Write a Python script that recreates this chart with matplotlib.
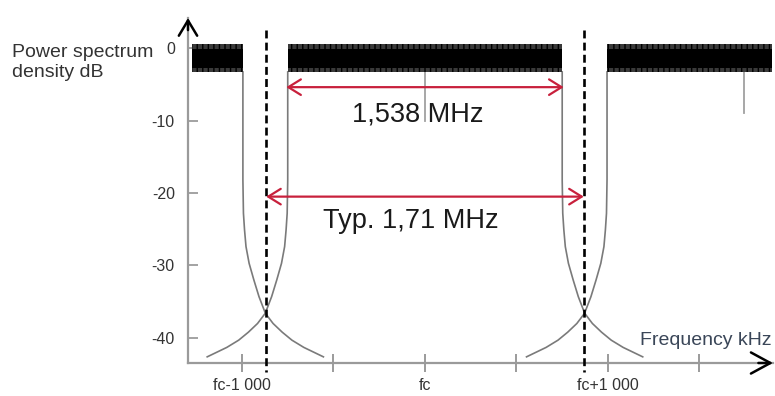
import matplotlib.pyplot as plt

plt.rcParams['font.family'] = ['Liberation Sans', 'DejaVu Sans']

# channel blocks (kHz relative to fc), flat top of the noise band in dB
blocks = [(-1273, -995), (-750, 750), (995, 1896)]
band_top, band_bottom = 0.55, -3.3
core_top, core_bottom = -0.2, -2.7

# filter skirt: distance from block edge (kHz) vs dB
skirt_khz = [0, 0, 3, 9, 17, 34, 60, 88, 123, 165, 215, 268, 333, 440]
skirt_db = [-3.3, -18.2, -22.8, -25.1, -27.4, -29.7, -32.0, -34.3, -36.6, -38.0, -39.2, -40.3, -41.3, -42.6]
# (edge position, direction the skirt runs)
skirt_edges = [(-995, 1), (-750, -1), (750, 1), (995, -1)]

# spurs dropping out of the band
spur_f = [0, 1743]
spur_db = [-10, -9]

dashed_f = [-868, 868]
occupied = (-758, 758, -5.4, '1,538 MHz')
channel = (-868, 868, -20.5, 'Typ. 1,71 MHz')

yticks = [0, -10, -20, -30, -40]
xticks = [-1000, -500, 0, 500, 1000, 1500]
xlabels = ['fc-1 000', '', 'fc', '', 'fc+1 000', '']

W, H = 775, 396
fig = plt.figure(figsize=(W / 100, H / 100), dpi=100)
ax = fig.add_axes([188 / W, (H - 363) / H, (773 - 188) / W, (363 - 18) / H])
ax.set_xlim(-1295, 1902)
ax.set_ylim(-43.45, 4.14)

red = '#c8203c'
grey = '#7a7a7a'

for f0, f1 in blocks:
    ax.fill_between([f0, f1], band_bottom, band_top, facecolor='#3a3a3a',
                    edgecolor='black', hatch='|||', linewidth=0, zorder=3)
    ax.fill_between([f0, f1], core_bottom, core_top, color='black', linewidth=0, zorder=4)

for edge, sgn in skirt_edges:
    ax.plot([edge + sgn * d for d in skirt_khz], skirt_db, color=grey, lw=1.2, zorder=2)

for f, d in zip(spur_f, spur_db):
    ax.plot([f, f], [band_bottom, d], color='#a0a0a0', lw=1.3, zorder=2)

for f in dashed_f:
    ax.plot([f, f], [2.5, -44.7], color='black', lw=1.9, dashes=(3.0, 1.6),
            clip_on=False, zorder=5)

for (f0, f1, y, lab) in [occupied, channel]:
    ax.annotate('', xy=(f0, y), xytext=(f1, y),
                arrowprops=dict(arrowstyle='<->,head_length=0.45,head_width=0.28',
                                color=red, lw=1.6, shrinkA=0, shrinkB=0,
                                mutation_scale=20), zorder=6)
for lab, fx, ty in [(occupied[3], -38, -10.07), (channel[3], -76, -24.8)]:
    ax.text(fx, ty, lab, ha='center', va='baseline', fontsize=19.5, color='#1a1a1a')

for s in ['top', 'right']:
    ax.spines[s].set_visible(False)
for s in ['left', 'bottom']:
    ax.spines[s].set_color('#9a9a9a')
    ax.spines[s].set_linewidth(1.6)

ax.set_yticks(yticks)
ax.set_yticklabels([str(v) for v in yticks])
ax.set_xticks(xticks)
ax.set_xticklabels(xlabels)
ax.tick_params(axis='y', direction='in', length=7.5, width=1.1, colors='#8a8a8a',
               pad=9.5, labelsize=11.5, labelcolor='#333333')
ax.tick_params(axis='x', direction='inout', length=13, width=1.2, colors='#8a8a8a',
               pad=4, labelsize=11.5, labelcolor='#333333')

# axis arrowheads
ax.annotate('', xy=(0, 1), xycoords='axes fraction', xytext=(0, 0.965),
            arrowprops=dict(arrowstyle='->,head_length=0.55,head_width=0.33',
                            color='black', lw=1.8, shrinkA=0, shrinkB=0, mutation_scale=20))
ax.annotate('', xy=(1, 0), xycoords='axes fraction', xytext=(0.975, 0),
            arrowprops=dict(arrowstyle='->,head_length=0.7,head_width=0.38',
                            color='black', lw=1.8, shrinkA=0, shrinkB=0, mutation_scale=20))

fig.text(12 / W, 1 - 57 / H, 'Power spectrum', fontsize=14, color='#333333', va='baseline')
fig.text(12 / W, 1 - 77 / H, 'density dB', fontsize=14, color='#333333', va='baseline')
fig.text(772 / W, 1 - 345 / H, 'Frequency kHz', fontsize=14, color='#3a4658',
         ha='right', va='baseline')

fig.savefig('out.png', dpi=100)
